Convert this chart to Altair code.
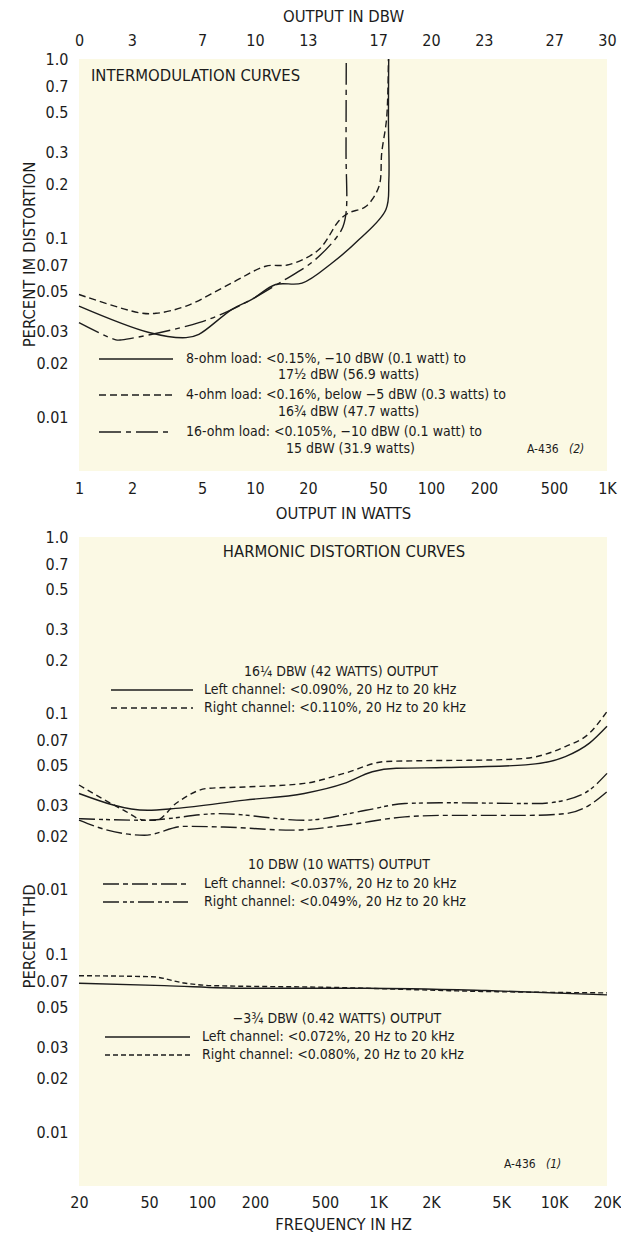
import altair as alt
import pandas as pd

FONT = "'Liberation Sans Narrow', 'DejaVu Sans Condensed', 'Roboto Condensed', 'Liberation Sans', sans-serif"
INK = "#1c1c1c"
BG = "#fbf9e4"

# ---------------- data: intermodulation (top panel) ----------------
W_TICKS = [1, 2, 5, 10, 20, 50, 100, 200, 500, 1000]
DBW_TICKS = [0, 3, 7, 10, 13, 17, 20, 23, 27, 30]
PCT_TICKS = [1.0, 0.7, 0.5, 0.3, 0.2, 0.1, 0.07, 0.05, 0.03, 0.02, 0.01]
PCT_TICKS_LOW = [0.1, 0.07, 0.05, 0.03, 0.02, 0.01]
HZ_TICKS = [20, 50, 100, 200, 500, 1000, 2000, 5000, 10000, 20000]

im8_watts = [1.0, 2.5, 4.06, 4.8, 7.4, 9.6, 13.1, 18.5, 27.4, 39.0, 55.4, 57.6, 57.3, 57.5]
im8_pct = [0.0417, 0.0297, 0.0278, 0.029, 0.040, 0.0454, 0.055, 0.056, 0.0726, 0.098, 0.144, 0.21, 0.45, 1.0]

im4_watts = [1.0, 2.19, 2.74, 4.06, 7.4, 11.5, 15.6, 23.0, 30.0, 34.0, 42.6, 50.6, 52.5, 56.0, 57.3]
im4_pct = [0.0484, 0.0383, 0.038, 0.0417, 0.0562, 0.0696, 0.071, 0.086, 0.125, 0.138, 0.15, 0.194, 0.30, 0.47, 1.0]

im16_watts = [1.0, 1.62, 1.75, 4.8, 8.1, 14.3, 22.0, 31.0, 32.9, 32.9, 33.0]
im16_pct = [0.0337, 0.027, 0.027, 0.0337, 0.0417, 0.0574, 0.0758, 0.111, 0.138, 0.30, 1.0]

# ---------------- data: harmonic distortion (bottom panel) ----------------
hd16_left_hz = [20, 49, 71, 175, 381, 643, 928, 1270, 2400, 6900, 11600, 15900, 20000]
hd16_left_pct = [0.0349, 0.028, 0.0287, 0.032, 0.0349, 0.0398, 0.0464, 0.0485, 0.049, 0.0507, 0.0565, 0.0674, 0.084]

hd16_right_hz = [20, 36, 47, 55, 71, 108, 175, 381, 643, 1100, 1840, 4060, 6900, 11600, 15900, 20000]
hd16_right_pct = [0.039, 0.028, 0.0246, 0.0246, 0.0306, 0.0373, 0.038, 0.0398, 0.0454, 0.053, 0.0536, 0.054, 0.0553, 0.0645, 0.0768, 0.102]

hd10_right_hz = [20, 47, 126, 381, 853, 1420, 2400, 8000, 11600, 15900, 20000]
hd10_right_pct = [0.0251, 0.0246, 0.0268, 0.0246, 0.028, 0.0306, 0.0309, 0.0306, 0.032, 0.0365, 0.0454]

hd10_left_hz = [20, 29, 47, 79, 133, 326, 643, 1420, 2400, 6900, 11600, 15900, 20000]
hd10_left_pct = [0.0246, 0.0216, 0.0202, 0.0227, 0.0225, 0.0216, 0.023, 0.0257, 0.0262, 0.0262, 0.0268, 0.030, 0.0357]

hd3_left_hz = [20, 61, 175, 850, 4100, 20000]
hd3_left_pct = [0.0687, 0.0667, 0.0645, 0.0645, 0.0626, 0.0592]

hd3_right_hz = [20, 52, 79, 113, 495, 4100, 20000]
hd3_right_pct = [0.0758, 0.0748, 0.069, 0.0667, 0.0653, 0.0618, 0.0607]


def frame(xs, ys):
    return pd.DataFrame({"x": xs, "y": ys, "i": list(range(len(xs)))})


LBL_PCT = "datum.value >= 1 ? '1.0' : format(datum.value, '~g')"
AX = dict(domain=False, ticks=False, grid=False, labelOverlap=False, labelFlush=False,
          labelFont=FONT, labelFontSize=16, labelColor=INK,
          titleFont=FONT, titleFontSize=16.5, titleFontWeight="normal", titleColor=INK)
LEG = 14

# ---------------- top panel ----------------
TW, TH = 528, 412
xs_top = alt.Scale(type="log", domain=[1, 1000], nice=False)
ys_top = alt.Scale(type="log", domain=[0.005, 1.0], nice=False)

x_bottom_axis = alt.Axis(values=W_TICKS, title="OUTPUT IN WATTS", labelPadding=9, titlePadding=9,
                         labelExpr="datum.value >= 1000 ? '1K' : format(datum.value, 'd')", **AX)
x_top_axis = alt.Axis(orient="top", values=[round(10 ** (d / 10), 6) for d in DBW_TICKS],
                      title="OUTPUT IN DBW", labelPadding=11, titlePadding=8,
                      labelExpr="format(round(10 * log(datum.value) / LN10), 'd')", **AX)
y_top_axis = alt.Axis(values=PCT_TICKS, labelExpr=LBL_PCT, labelPadding=11,
                      title="PERCENT IM DISTORTION", titleAngle=270, titleX=-50, titleY=195,
                      titleAlign="center", titleBaseline="middle", **AX)


def curve(xs, ys, xscale, yscale, xaxis, yaxis, dash=None, interp="monotone"):
    kw = dict(color=INK, strokeWidth=1.4, interpolate=interp)
    if dash:
        kw["strokeDash"] = dash
    return alt.Chart(frame(xs, ys)).mark_line(**kw).encode(
        x=alt.X("x:Q", scale=xscale, axis=xaxis),
        y=alt.Y("y:Q", scale=yscale, axis=yaxis),
        order=alt.Order("i:Q"),
    )


def note(text, x, y, size=LEG, align="left", italic=False):
    return alt.Chart(alt.Data(values=[{}])).mark_text(
        text=text, align=align, baseline="middle", font=FONT, fontSize=size,
        fontStyle="italic" if italic else "normal", color=INK,
    ).encode(x=alt.value(x), y=alt.value(y))


def swatch(x1, x2, y, dash=None):
    kw = dict(color=INK, strokeWidth=1.4)
    if dash:
        kw["strokeDash"] = dash
    return alt.Chart(alt.Data(values=[{}])).mark_rule(**kw).encode(
        x=alt.value(x1), x2=alt.value(x2), y=alt.value(y))


D4 = [7, 4]
D16 = [22, 5, 5, 5]

top = alt.layer(
    curve(im8_watts, im8_pct, xs_top, ys_top, x_bottom_axis, y_top_axis, interp="catmull-rom"),
    curve(im4_watts, im4_pct, xs_top, ys_top, x_top_axis, y_top_axis, dash=D4, interp="catmull-rom"),
    curve(im16_watts, im16_pct, xs_top, ys_top, None, y_top_axis, dash=D16, interp="catmull-rom"),
    note("INTERMODULATION CURVES", 12, 17, size=16.5),
    swatch(20, 94, 300),
    note("8-ohm load: <0.15%, \u221210 dBW (0.1 watt) to", 107, 300),
    note("17\u00bd dBW (56.9 watts)", 199, 316),
    swatch(20, 94, 336, D4),
    note("4-ohm load: <0.16%, below \u22125 dBW (0.3 watts) to", 107, 336),
    note("16\u00be dBW (47.7 watts)", 199, 353),
    swatch(20, 94, 373, D16),
    note("16-ohm load: <0.105%, \u221210 dBW (0.1 watt) to", 107, 373),
    note("15 dBW (31.9 watts)", 207, 390),
    note("A-436", 448, 390, size=12),
    note("(2)", 490, 390, size=12, italic=True),
).resolve_axis(x="independent").properties(width=TW, height=TH)

# ---------------- bottom panel ----------------
BW, BH = 528, 649
UP_H = 374
xs_bot = alt.Scale(type="log", domain=[20, 20000], nice=False)
ys_up = alt.Scale(type="log", domain=[0.0075, 1.0], nice=False, range=[UP_H, 0])
ys_lo = alt.Scale(type="log", domain=[0.005, 0.175], nice=False, range=[BH, UP_H])

x_hz_axis = alt.Axis(values=HZ_TICKS, title="FREQUENCY IN HZ", labelPadding=8, titlePadding=6,
                     labelExpr="datum.value >= 1000 ? format(datum.value / 1000, 'd') + 'K' : format(datum.value, 'd')",
                     **AX)
y_up_axis = alt.Axis(orient="left", values=PCT_TICKS, labelExpr=LBL_PCT, labelPadding=11, title=None, **AX)
y_lo_axis = alt.Axis(orient="left", values=PCT_TICKS_LOW, labelExpr=LBL_PCT, labelPadding=11,
                     title="PERCENT THD", titleAngle=270, titleX=-50, titleY=399,
                     titleAlign="center", titleBaseline="middle", **AX)

D_R = [6, 4]
D10L = [16, 4, 5, 4]
D10R = [16, 4, 4, 3, 4, 4]

upper = alt.layer(
    curve(hd16_left_hz, hd16_left_pct, xs_bot, ys_up, x_hz_axis, y_up_axis),
    curve(hd16_right_hz, hd16_right_pct, xs_bot, ys_up, x_hz_axis, y_up_axis, dash=D_R),
    curve(hd10_left_hz, hd10_left_pct, xs_bot, ys_up, x_hz_axis, y_up_axis, dash=D10L),
    curve(hd10_right_hz, hd10_right_pct, xs_bot, ys_up, x_hz_axis, y_up_axis, dash=D10R),
    note("HARMONIC DISTORTION CURVES", 265, 15, size=16.5, align="center"),
    note("16\u00bc DBW (42 WATTS) OUTPUT", 262, 135, align="center"),
    swatch(32, 114, 153),
    note("Left channel: <0.090%, 20 Hz to 20 kHz", 125, 153),
    swatch(32, 114, 171, D_R),
    note("Right channel: <0.110%, 20 Hz to 20 kHz", 125, 171),
    note("10 DBW (10 WATTS) OUTPUT", 260, 328, align="center"),
    swatch(24, 109, 347, D10L),
    note("Left channel: <0.037%, 20 Hz to 20 kHz", 125, 347),
    swatch(24, 109, 365, D10R),
    note("Right channel: <0.049%, 20 Hz to 20 kHz", 125, 365),
)

lower = alt.layer(
    curve(hd3_left_hz, hd3_left_pct, xs_bot, ys_lo, x_hz_axis, y_lo_axis),
    curve(hd3_right_hz, hd3_right_pct, xs_bot, ys_lo, x_hz_axis, y_lo_axis, dash=[5, 3]),
    note("\u22123\u00be DBW (0.42 WATTS) OUTPUT", 258, UP_H + 108, align="center"),
    swatch(26, 111, UP_H + 126),
    note("Left channel: <0.072%, 20 Hz to 20 kHz", 123, UP_H + 126),
    swatch(26, 111, UP_H + 144, [5, 3]),
    note("Right channel: <0.080%, 20 Hz to 20 kHz", 123, UP_H + 144),
    note("A-436", 425, UP_H + 253, size=12),
    note("(1)", 467, UP_H + 253, size=12, italic=True),
)

bottom = alt.layer(upper, lower).resolve_scale(y="independent").properties(width=BW, height=BH)

chart = alt.vconcat(top, bottom, spacing=66, bounds="flush").properties(
    padding={"left": 13, "top": 0, "right": 0, "bottom": 0},
    background="#ffffff",
).configure_view(stroke=None, fill=BG)

chart.save("out.html", embed_options={"renderer": "svg", "actions": False})
